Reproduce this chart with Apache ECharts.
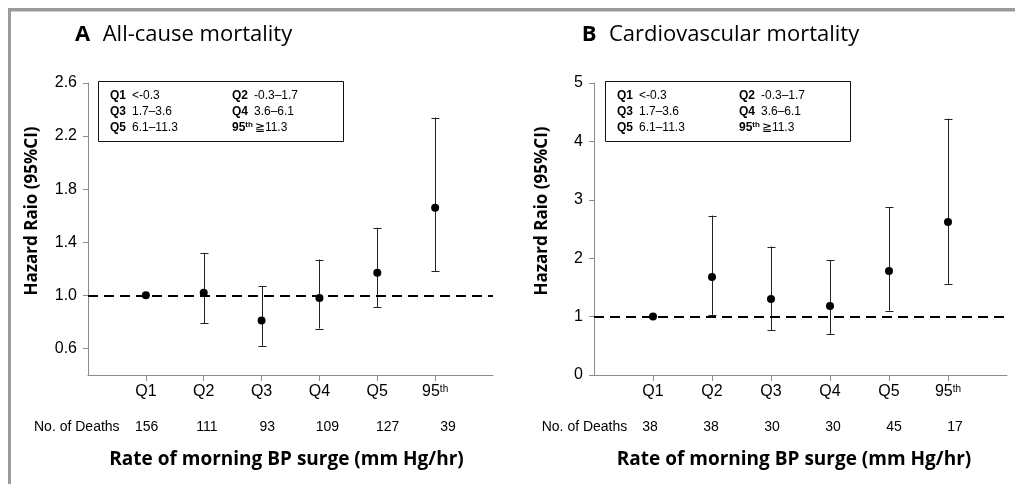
<!DOCTYPE html>
<html style="height: 100%">
<head>
    <meta charset="UTF-8">
    <title>Morning BP surge and mortality</title>
    <script src="https://cdn.jsdelivr.net/npm/echarts/dist/echarts.min.js"></script>
    <style>
        #main {
            width: 1015px;
            height: 484px;
        }
    </style>
</head>
<body style="height: 100%; margin: 0; background: #fff">
    <div id="main"></div>
    <script type="text/javascript">
        // quintiles of morning BP surge rate
        var categories = ['Q1', 'Q2', 'Q3', 'Q4', 'Q5', '95th'];
        var rangeText = ['<-0.3', '-0.3\u20131.7', '1.7\u20133.6', '3.6\u20136.1', '6.1\u201311.3', '\u226711.3'];

        // A: all-cause mortality
        var hrAll = [1.00, 1.02, 0.81, 0.98, 1.17, 1.66];
        var loAll = [null, 0.79, 0.62, 0.75, 0.91, 1.18];
        var hiAll = [null, 1.32, 1.07, 1.27, 1.51, 2.34];
        var deathsAll = [156, 111, 93, 109, 127, 39];
        var yTicksAll = [0.6, 1.0, 1.4, 1.8, 2.2, 2.6];

        // B: cardiovascular mortality
        var hrCv = [1.00, 1.68, 1.30, 1.18, 1.78, 2.62];
        var loCv = [null, 1.03, 0.77, 0.70, 1.10, 1.56];
        var hiCv = [null, 2.73, 2.20, 1.97, 2.87, 4.39];
        var deathsCv = [38, 38, 30, 30, 45, 17];
        var yTicksCv = [0, 1, 2, 3, 4, 5];

        var positions = [1, 2, 3, 4, 5, 6];
        var axisGrey = '#8c8c8c';
        var sans = 'Liberation Sans';
        var titleFont = 'Open Sans';

        var chartDom = document.getElementById('main');
        var myChart = echarts.init(chartDom);

        function catLabel(v) {
            var c = categories[v - 1];
            if (c === '95th') return '{n|95}{s|th}';
            return '{n|' + c + '}';
        }

        function mainXAxis(grid) {
            return {
                gridIndex: grid,
                type: 'value',
                min: 0,
                max: 7,
                position: 'bottom',
                splitLine: { show: false },
                axisLine: { lineStyle: { color: axisGrey, width: 1 } },
                axisTick: { customValues: positions, length: 6, lineStyle: { color: axisGrey } },
                axisLabel: {
                    customValues: positions,
                    margin: 9,
                    formatter: catLabel,
                    rich: {
                        n: { fontFamily: sans, fontSize: 16, lineHeight: 16, color: '#000' },
                        s: { fontFamily: sans, fontSize: 10, lineHeight: 10, color: '#000', verticalAlign: 'top' }
                    }
                }
            };
        }

        function deathsAxis(grid, deaths, min, max) {
            return {
                gridIndex: grid,
                type: 'value',
                min: min,
                max: max,
                position: 'bottom',
                splitLine: { show: false },
                axisLine: { show: false },
                axisTick: { show: false },
                axisLabel: {
                    customValues: positions,
                    margin: 45,
                    fontFamily: sans,
                    fontSize: 14,
                    color: '#000',
                    formatter: function (v) { return String(deaths[v - 1]); }
                }
            };
        }

        function yAxisOf(grid, min, max, ticks, digits) {
            return {
                gridIndex: grid,
                type: 'value',
                min: min,
                max: max,
                splitLine: { show: false },
                axisLine: { show: true, lineStyle: { color: axisGrey, width: 1 } },
                axisTick: { show: true, customValues: ticks, length: 5, lineStyle: { color: axisGrey } },
                axisLabel: {
                    customValues: ticks,
                    margin: 11,
                    fontFamily: sans,
                    fontSize: 16,
                    color: '#000',
                    formatter: function (v) { return v.toFixed(digits); }
                }
            };
        }

        function renderBar(params, api) {
            var x = api.value(0);
            var top = api.coord([x, api.value(2)]);
            var bot = api.coord([x, api.value(1)]);
            var cx = Math.round(top[0]) + 0.5;
            var w = 4;
            var st = { stroke: '#222', lineWidth: 1 };
            return {
                type: 'group',
                children: [
                    { type: 'line', shape: { x1: cx, y1: top[1], x2: cx, y2: bot[1] }, style: st },
                    { type: 'line', shape: { x1: cx - w, y1: Math.round(top[1]) + 0.5, x2: cx + w, y2: Math.round(top[1]) + 0.5 }, style: st },
                    { type: 'line', shape: { x1: cx - w, y1: Math.round(bot[1]) + 0.5, x2: cx + w, y2: Math.round(bot[1]) + 0.5 }, style: st }
                ]
            };
        }

        function barData(lo, hi) {
            var out = [];
            for (var i = 0; i < lo.length; i++) {
                if (lo[i] != null) out.push([i + 1, lo[i], hi[i]]);
            }
            return out;
        }

        function pointData(hr) {
            return hr.map(function (v, i) { return [i + 1, v]; });
        }

        function seriesFor(idx, hr, lo, hi) {
            return [{
                type: 'custom',
                xAxisIndex: idx * 2,
                yAxisIndex: idx,
                renderItem: renderBar,
                encode: { x: 0, y: [1, 2] },
                data: barData(lo, hi),
                z: 2
            }, {
                type: 'scatter',
                xAxisIndex: idx * 2,
                yAxisIndex: idx,
                symbol: 'circle',
                symbolSize: 8,
                itemStyle: { color: '#000', opacity: 1 },
                data: pointData(hr),
                z: 3,
                markLine: {
                    silent: true,
                    symbol: 'none',
                    label: { show: false },
                    lineStyle: { color: '#000', type: [10, 6], width: 2 },
                    data: [{ yAxis: 1 }]
                }
            }];
        }

        function legendBox(left) {
            var items = [{
                type: 'rect',
                shape: { x: left + 0.5, y: 81.5, width: 245, height: 60 },
                style: { fill: '#fff', stroke: '#111', lineWidth: 1 }
            }];
            var rowsY = [96, 112, 127.5];
            for (var i = 0; i < categories.length; i++) {
                var col = i % 2;
                var row = Math.floor(i / 2);
                var lab = categories[i] === '95th' ? '{b|95}{s|th}{v|' + rangeText[i] + '}' : '{b|' + categories[i] + '}{v|' + rangeText[i] + '}';
                items.push({
                    type: 'text',
                    x: left + (col === 0 ? 12 : 134),
                    y: rowsY[row],
                    style: {
                        text: lab,
                        verticalAlign: 'middle',
                        fill: '#000',
                        rich: {
                            b: { fontFamily: sans, fontWeight: 'bold', fontSize: 12, lineHeight: 14, padding: [0, 6, 0, 0] },
                            s: { fontFamily: sans, fontWeight: 'bold', fontSize: 8, lineHeight: 8, verticalAlign: 'top', padding: [0, 2, 0, -6] },
                            v: { fontFamily: sans, fontSize: 12, lineHeight: 14 }
                        }
                    }
                });
            }
            return items;
        }

        function panelText(letterX, titleX, title, yNameX, xNameX, deathsX) {
            return [
                { type: 'text', x: letterX, y: 35, style: { text: title[0], font: 'bold 22px "' + titleFont + '"', verticalAlign: 'middle', fill: '#000' } },
                { type: 'text', x: titleX, y: 35, style: { text: title[1], font: '22px "' + titleFont + '"', verticalAlign: 'middle', fill: '#000' } },
                { type: 'text', x: yNameX, y: 211, rotation: Math.PI / 2, style: { text: 'Hazard Raio (95%CI)', font: 'bold 17px "' + titleFont + '"', align: 'center', verticalAlign: 'middle', fill: '#000' } },
                { type: 'text', x: xNameX, y: 460, style: { text: 'Rate of morning BP surge (mm Hg/hr)', font: 'bold 19px "' + titleFont + '"', align: 'center', verticalAlign: 'middle', fill: '#000' } },
                { type: 'text', x: deathsX, y: 427, style: { text: 'No. of Deaths', font: '14px "' + sans + '"', verticalAlign: 'middle', fill: '#000' } }
            ];
        }

        var graphics = [
            { type: 'rect', shape: { x: 8, y: 8, width: 1007, height: 3.5 }, style: { fill: '#9a9a9a' } },
            { type: 'rect', shape: { x: 8, y: 8, width: 3, height: 476 }, style: { fill: '#9a9a9a' } }
        ]
            .concat(legendBox(98))
            .concat(legendBox(605))
            .concat(panelText(75, 102.7, ['A', 'All-cause mortality'], 32, 286.5, 34))
            .concat(panelText(581.7, 609, ['B', 'Cardiovascular mortality'], 541.7, 794, 541.7));

        var option = {
            animation: false,
            backgroundColor: '#fff',
            grid: [
                { left: 88, right: 522, top: 83, bottom: 109 },
                { left: 594, right: 8, top: 83, bottom: 109 }
            ],
            xAxis: [
                mainXAxis(0),
                deathsAxis(0, deathsAll, 0.026, 6.747),
                mainXAxis(1),
                deathsAxis(1, deathsCv, 0.082, 6.852)
            ],
            yAxis: [
                yAxisOf(0, 0.4, 2.6, yTicksAll, 1),
                yAxisOf(1, 0, 5, yTicksCv, 0)
            ],
            series: seriesFor(0, hrAll, loAll, hiAll).concat(seriesFor(1, hrCv, loCv, hiCv)),
            graphic: graphics
        };

        myChart.setOption(option);
    </script>
</body>
</html>
